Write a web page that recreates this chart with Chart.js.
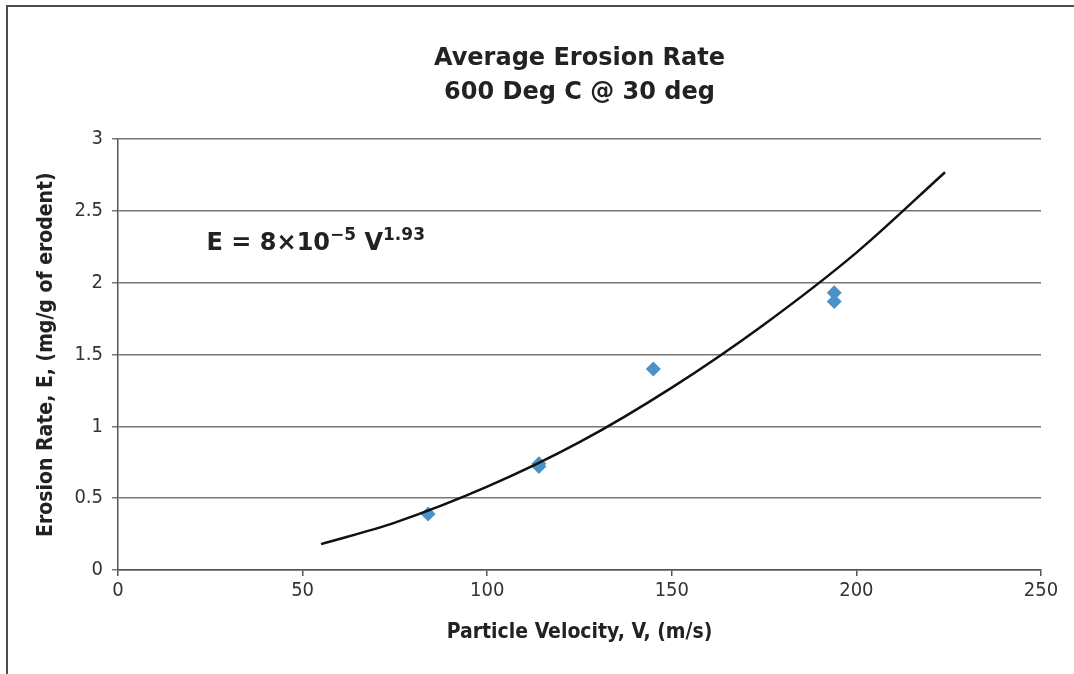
<!DOCTYPE html>
<html>
<head>
<meta charset="utf-8">
<script src="https://cdn.jsdelivr.net/npm/chart.js@4/dist/chart.umd.min.js"></script>
<style>
  html, body { margin: 0; padding: 0; background: #fff; }
  #wrap { position: relative; width: 1074px; height: 674px; overflow: hidden; }
  #frame {
    position: absolute; left: 6px; top: 5px; width: 1200px; height: 800px;
    border-left: 2px solid #4d4d4d; border-top: 2px solid #4d4d4d;
  }
  #chart { position: absolute; left: 0; top: 0; }
</style>
</head>
<body>
<div id="wrap">
  <div id="frame"></div>
  <canvas id="chart" width="1074" height="674"></canvas>
</div>
<script>
// measured points
const velocity = [84, 114, 114, 145, 194, 194];
const erosion = [0.39, 0.72, 0.74, 1.40, 1.87, 1.93];

// power-law trend line
const fitVelocity = [55, 75, 100, 125, 150, 175, 200, 224];
const fitErosion = [0.18, 0.33, 0.58, 0.89, 1.27, 1.71, 2.21, 2.77];

const xTicks = [0, 50, 100, 150, 200, 250];
const yTicks = [0, 0.5, 1, 1.5, 2, 2.5, 3];

const titleLines = ["Average Erosion Rate", "600 Deg C @ 30 deg"];
const equationAt = { x: 24, y: 2.23 };

const FONT = "'DejaVu Sans', Verdana, sans-serif";
const FONT_NARROW = "'DejaVu Sans Condensed', 'DejaVu Sans', Tahoma, sans-serif";

// draws "E = 8×10^-5 V^1.93" at a data position
const equationPlugin = {
  id: "equation",
  afterDraw(chart) {
    const ctx = chart.ctx;
    let x = chart.scales.x.getPixelForValue(equationAt.x);
    const y = chart.scales.y.getPixelForValue(equationAt.y);
    const parts = [
      { t: "E = 8×10", size: 24, rise: 0 },
      { t: "−5", size: 17, rise: 10 },
      { t: " V", size: 24, rise: 0 },
      { t: "1.93", size: 17, rise: 10 }
    ];
    ctx.save();
    ctx.fillStyle = "#222";
    ctx.textBaseline = "alphabetic";
    ctx.textAlign = "left";
    parts.forEach((p) => {
      ctx.font = "bold " + p.size + "px " + FONT;
      ctx.fillText(p.t, x, y - p.rise);
      x += ctx.measureText(p.t).width;
    });
    ctx.restore();
  }
};

const ctx = document.getElementById("chart").getContext("2d");
new Chart(ctx, {
  type: "scatter",
  data: {
    datasets: [
      {
        label: "Trend",
        type: "line",
        data: fitVelocity.map((v, i) => ({ x: v, y: fitErosion[i] })),
        borderColor: "#111",
        borderWidth: 2.5,
        pointRadius: 0,
        fill: false,
        cubicInterpolationMode: "monotone",
        order: 1
      },
      {
        label: "Measured",
        data: velocity.map((v, i) => ({ x: v, y: erosion[i] })),
        pointStyle: "rectRot",
        pointRadius: 7.5,
        backgroundColor: "#4a93c8",
        borderColor: "#4a93c8",
        borderWidth: 0,
        order: 2
      }
    ]
  },
  options: {
    responsive: false,
    animation: false,
    layout: { padding: { left: 30, right: 33, top: 6, bottom: 20 } },
    plugins: {
      legend: { display: false },
      tooltip: { enabled: false },
      title: {
        display: true,
        fullSize: false,
        text: titleLines,
        color: "#222",
        font: { family: FONT, size: 24, weight: "bold", lineHeight: 1.4 },
        padding: { top: 36, bottom: 30 }
      }
    },
    scales: {
      x: {
        type: "linear",
        min: 0,
        max: 250,
        afterFit: (s) => { s.height = 84; },
        afterBuildTicks: (s) => { s.ticks = xTicks.map((v) => ({ value: v })); },
        ticks: {
          color: "#333",
          padding: 3,
          font: { family: FONT_NARROW, size: 20 },
          callback: (v) => String(v)
        },
        grid: {
          drawOnChartArea: false,
          drawTicks: true,
          tickLength: 6,
          color: "#555",
          lineWidth: 1.5
        },
        border: { display: true, color: "#555", width: 1.5 },
        title: {
          display: true,
          text: "Particle Velocity, V, (m/s)",
          color: "#222",
          font: { family: FONT_NARROW, size: 21, weight: "bold" },
          padding: { top: 9, bottom: 9 }
        }
      },
      y: {
        type: "linear",
        min: 0,
        max: 3,
        afterFit: (s) => { s.width = 88; },
        afterBuildTicks: (s) => { s.ticks = yTicks.map((v) => ({ value: v })); },
        ticks: {
          color: "#333",
          padding: 9,
          font: { family: FONT_NARROW, size: 20 },
          callback: (v) => String(v)
        },
        grid: {
          drawOnChartArea: true,
          drawTicks: true,
          tickLength: 6,
          color: "#777",
          lineWidth: 1.5
        },
        border: { display: true, color: "#555", width: 1.5 },
        title: {
          display: true,
          text: "Erosion Rate, E, (mg/g of erodent)",
          color: "#222",
          font: { family: FONT_NARROW, size: 21, weight: "bold" },
          padding: { top: 4, bottom: 4 }
        }
      }
    }
  },
  plugins: [equationPlugin]
});
</script>
</body>
</html>
